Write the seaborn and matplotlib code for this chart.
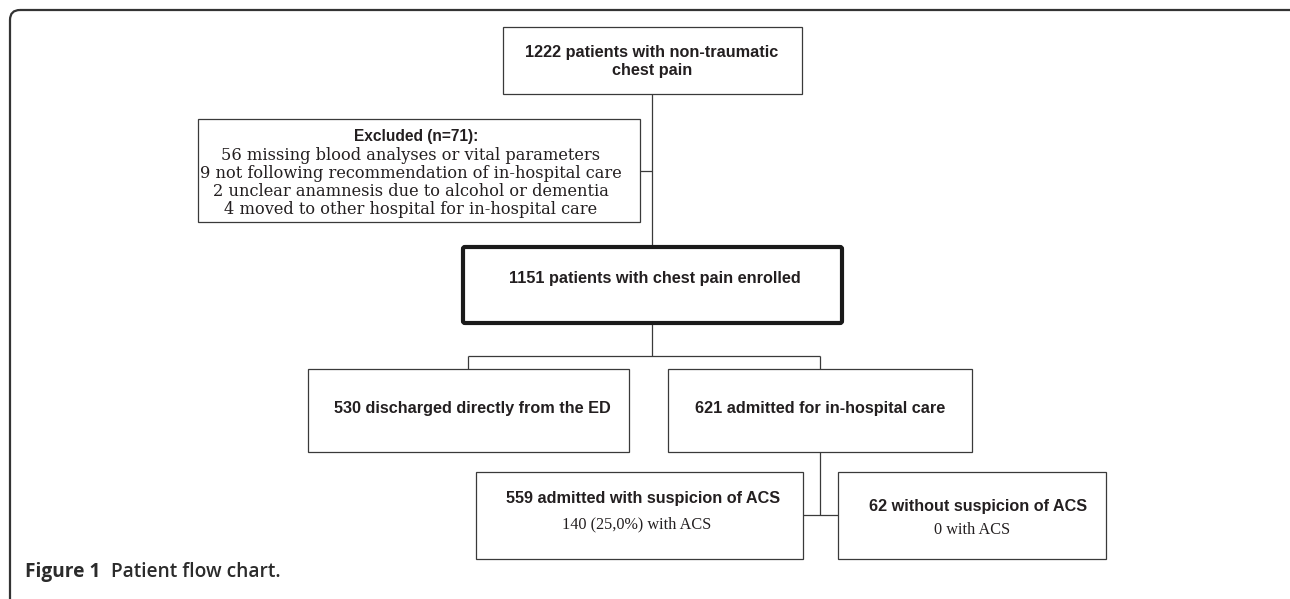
#!/usr/bin/env python3
"""Patient flow chart."""

import matplotlib

matplotlib.use("Agg")
import matplotlib.pyplot as plt
import seaborn as sns
from matplotlib.patches import FancyBboxPatch, Rectangle

# counts
n_total = 1222
n_excluded = 71
excl_counts = [56, 9, 2, 4]
excl_reasons = [
    "missing blood analyses or vital parameters",
    "not following recommendation of in-hospital care",
    "unclear anamnesis due to alcohol or dementia",
    "moved to other hospital for in-hospital care",
]
n_enrolled = 1151
n_discharged = 530
n_admitted = 621
n_suspicion = 559
n_acs_suspicion = 140
pct_acs_suspicion = "25,0%"
n_no_suspicion = 62
n_acs_no_suspicion = 0

# layout (pixels, y downwards)
W, H = 1290, 599
INK = "#231f20"
EDGE = "#3a3a3a"
SANS = "Liberation Sans"
SERIF = "Liberation Serif"

sns.set_theme(style="white")
fig = plt.figure(figsize=(W / 100, H / 100), dpi=100)
ax = fig.add_axes([0, 0, 1, 1])
ax.set_xlim(0, W)
ax.set_ylim(H, 0)
ax.axis("off")

# outer frame, runs past the right and bottom edges
frame = FancyBboxPatch((10, 10), 1290, 700, boxstyle="round,pad=0,rounding_size=10",
                       fill=False, edgecolor="#333333", linewidth=1.6)
ax.add_patch(frame)


def box(x0, y0, x1, y1, lw=0.9, rounded=False):
    if rounded:
        p = FancyBboxPatch((x0, y0), x1 - x0, y1 - y0, boxstyle="round,pad=0,rounding_size=2",
                           fill=True, facecolor="white", edgecolor="#1a1a1a", linewidth=lw)
    else:
        p = Rectangle((x0, y0), x1 - x0, y1 - y0, facecolor="white", edgecolor=EDGE, linewidth=lw)
    ax.add_patch(p)


def link(xs, ys):
    ax.plot(xs, ys, color=EDGE, linewidth=0.9, solid_capstyle="butt", zorder=0)


def bold(x, y, s, size=11.7):
    ax.text(x, y, s, ha="center", va="center", family=SANS, fontweight="bold",
            fontsize=size, color=INK)


def plain(x, y, s, size=11.7, family=SERIF):
    ax.text(x, y, s, ha="center", va="center", family=family, fontsize=size, color=INK)


# connectors
link([652, 652], [94, 247])
link([640, 652], [171, 171])
link([652, 652], [323, 356])
link([468, 820], [356, 356])
link([468, 468], [356, 369])
link([820, 820], [356, 369])
link([820, 820], [452, 515])
link([803, 838], [515, 515])

# top box
box(503, 27, 802, 94)
bold(652, 52, f"{n_total} patients with non-traumatic")
bold(652, 71, "chest pain")

# excluded box (wide serif lines)
box(198, 119, 640, 222)
bold(416, 137, f"Excluded (n={n_excluded}):", size=11.2)
for i, (c, r) in enumerate(zip(excl_counts, excl_reasons)):
    plain(411, 155 + i * 18.3, f"{c} {r}", size=11.7, family="DejaVu Serif")

# enrolled box
box(463, 247, 842, 323, lw=3.0, rounded=True)
bold(655, 278, f"{n_enrolled} patients with chest pain enrolled")

# second level
box(308, 369, 629, 452)
bold(472, 409, f"{n_discharged} discharged directly from the ED")
box(668, 369, 972, 452)
bold(820, 409, f"{n_admitted} admitted for in-hospital care")

# third level
box(476, 472, 803, 559)
bold(643, 499, f"{n_suspicion} admitted with suspicion of ACS")
plain(637, 524, f"{n_acs_suspicion} ({pct_acs_suspicion}) with ACS")
box(838, 472, 1106, 559)
bold(978, 507, f"{n_no_suspicion} without suspicion of ACS")
plain(972, 530, f"{n_acs_no_suspicion} with ACS")

# caption
ax.text(25, 572, "Figure 1", ha="left", va="center", family="Open Sans",
        fontweight="bold", fontsize=13.8, color="#2b2b2b")
ax.text(111, 572, "Patient flow chart.", ha="left", va="center", family="Open Sans",
        fontweight="semibold", fontsize=13.8, color="#2b2b2b")

fig.savefig("out.png", dpi=100, facecolor="white")
